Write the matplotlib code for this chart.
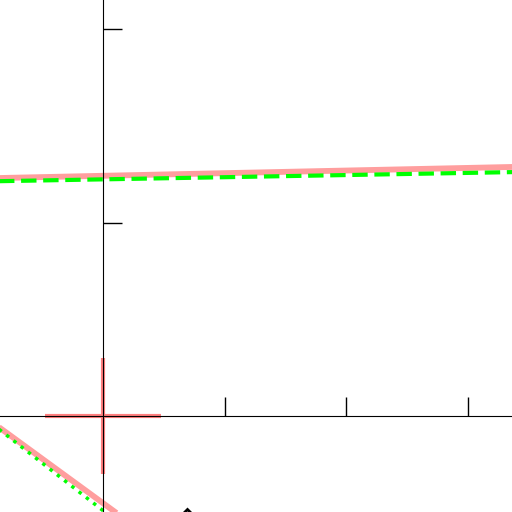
import matplotlib
matplotlib.use("Agg")
import matplotlib.pyplot as plt

# line readings (data units)
upper_x = [-1.0, 3.5]
upper_fit = [1.228, 1.289]
upper_est = [1.212, 1.262]

lower_x = [-1.0, 0.2]
lower_fit = [0.008, -0.542]
lower_est = [0.002, -0.587]

origin = [0.0, 0.0]
point_x = [0.69]
point_y = [-0.535]

x_ticks = [1, 2, 3]
y_ticks = [1, 2]

fig = plt.figure(figsize=(5.12, 5.12), dpi=100)
ax = fig.add_axes([0, 0, 1, 1])

ax.plot(upper_x, upper_fit, color="red", alpha=0.38, lw=4.2, solid_capstyle="butt")
ax.plot(upper_x, upper_est, color="lime", lw=3, ls="--")
ax.plot(lower_x, lower_fit, color="red", alpha=0.38, lw=4.2, solid_capstyle="butt")
ax.plot(lower_x, lower_est, color="lime", lw=2.5, ls=":")

ax.plot(origin[0], origin[1], marker="+", ms=83, mew=3, color="red", alpha=0.5)
ax.plot(point_x, point_y, marker="D", ms=11, mfc="none", mec="black", mew=2, ls="none")

ax.set_xlim(-0.848, 3.366)
ax.set_ylim(-0.496, 2.15)

ax.spines["left"].set_position(("data", 0))
ax.spines["bottom"].set_position(("data", 0))
ax.spines["top"].set_visible(False)
ax.spines["right"].set_visible(False)
ax.set_xticks(x_ticks)
ax.set_yticks(y_ticks)
ax.tick_params(direction="in", length=13.7, width=1, labelbottom=False, labelleft=False)

fig.savefig("out.png", dpi=100)
